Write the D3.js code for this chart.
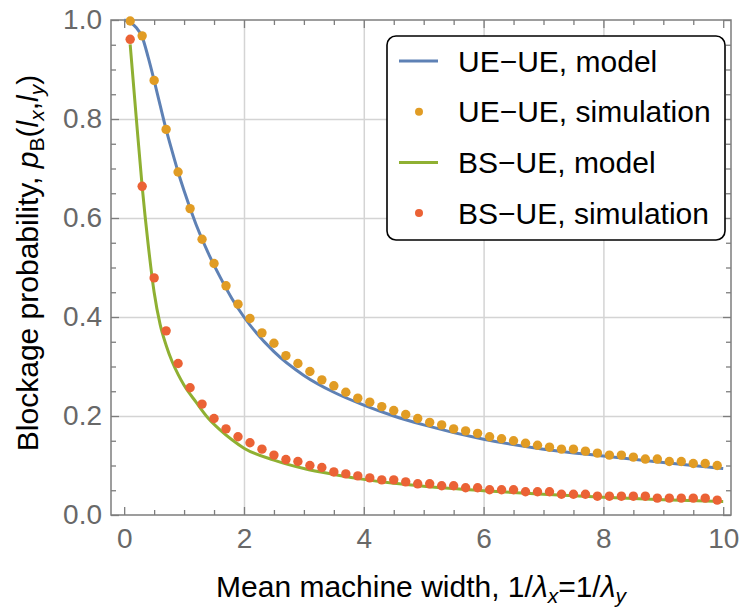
<!DOCTYPE html>
<html>
<head>
<meta charset="utf-8">
<script src="https://d3js.org/d3.v7.min.js"></script>
<style>
    body { margin: 0; background: #fff; }
    text { font-family: "Liberation Sans", Arial, sans-serif; }
</style>
</head>
<body>
<div id="blockage_chart"></div>
<script>
// simulation points (x = mean machine width)
var simX = [0.1, 0.3, 0.5, 0.7, 0.9, 1.1, 1.3, 1.5, 1.7, 1.9,
    2.1, 2.3, 2.5, 2.7, 2.9, 3.1, 3.3, 3.5, 3.7, 3.9,
    4.1, 4.3, 4.5, 4.7, 4.9, 5.1, 5.3, 5.5, 5.7, 5.9,
    6.1, 6.3, 6.5, 6.7, 6.9, 7.1, 7.3, 7.5, 7.7, 7.9,
    8.1, 8.3, 8.5, 8.7, 8.9, 9.1, 9.3, 9.5, 9.7, 9.9];
var ueUeSim = [0.998, 0.968, 0.878, 0.779, 0.693, 0.619, 0.557, 0.508, 0.463, 0.426,
    0.397, 0.368, 0.347, 0.322, 0.306, 0.290, 0.273, 0.261, 0.248, 0.236,
    0.228, 0.219, 0.211, 0.203, 0.195, 0.187, 0.182, 0.174, 0.170, 0.165,
    0.158, 0.154, 0.150, 0.145, 0.141, 0.137, 0.133, 0.133, 0.129, 0.125,
    0.121, 0.121, 0.117, 0.113, 0.113, 0.108, 0.108, 0.104, 0.104, 0.100];
var bsUeSim = [0.961, 0.664, 0.479, 0.372, 0.306, 0.257, 0.224, 0.195, 0.174, 0.158,
    0.146, 0.133, 0.121, 0.112, 0.108, 0.100, 0.096, 0.087, 0.083, 0.079,
    0.075, 0.071, 0.071, 0.067, 0.063, 0.063, 0.059, 0.059, 0.055, 0.055,
    0.051, 0.051, 0.051, 0.047, 0.047, 0.047, 0.042, 0.042, 0.042, 0.038,
    0.038, 0.038, 0.038, 0.038, 0.034, 0.034, 0.034, 0.034, 0.034, 0.030];

// model curves
var modelX = [0, 0.1, 0.2, 0.3, 0.4, 0.5, 0.6, 0.7, 0.8, 0.9, 1.0, 1.2, 1.4, 1.6, 1.8,
    2.0, 2.5, 3.0, 3.5, 4.0, 4.5, 5.0, 6.0, 7.0, 8.0, 9.0, 10.0];
var ueUeModel = [1.0, 0.995, 0.985, 0.966, 0.925, 0.878, 0.828, 0.779, 0.735, 0.693, 0.655, 0.587, 0.530, 0.481, 0.437,
    0.400, 0.330, 0.282, 0.248, 0.222, 0.200, 0.182, 0.153, 0.133, 0.119, 0.106, 0.094];
var bsUeModel = [null, 0.951, 0.805, 0.664, 0.547, 0.450, 0.385, 0.343, 0.310, 0.284, 0.262, 0.228, 0.196, 0.172, 0.152,
    0.135, 0.111, 0.094, 0.082, 0.072, 0.064, 0.058, 0.049, 0.042, 0.036, 0.031, 0.027];

var xMajor = [0, 2, 4, 6, 8, 10];
var xMinor = [0.5, 1, 1.5, 2.5, 3, 3.5, 4.5, 5, 5.5, 6.5, 7, 7.5, 8.5, 9, 9.5];
var yMajor = [0, 0.2, 0.4, 0.6, 0.8, 1.0];
var yMinor = [0.05, 0.1, 0.15, 0.25, 0.3, 0.35, 0.45, 0.5, 0.55, 0.65, 0.7, 0.75, 0.85, 0.9, 0.95];

var legendLabels = ["UE\u2212UE, model", "UE\u2212UE, simulation", "BS\u2212UE, model", "BS\u2212UE, simulation"];
var colors = { blue: "#5e81b5", orange: "#e19c24", green: "#8fb032", red: "#eb6235" };

(function () {

    // set the dimensions and margins of the graph
    var margin = { top: 20, right: 11, bottom: 93, left: 111 },
        width = 742 - margin.left - margin.right,
        height = 608 - margin.top - margin.bottom;

    var svg = d3.select("#blockage_chart")
        .append("svg")
        .attr("width", width + margin.left + margin.right)
        .attr("height", height + margin.top + margin.bottom)
        .append("g")
        .attr("transform", "translate(" + margin.left + "," + margin.top + ")");

    var x = d3.scaleLinear().domain([-0.22, 10.13]).range([0, width]);
    var y = d3.scaleLinear().domain([0, 1]).range([height, 0]);

    // grid lines
    svg.append("g")
        .attr("transform", "translate(0," + height + ")")
        .call(d3.axisBottom(x).tickValues([2, 4, 6, 8]).tickSize(-height).tickFormat(""))
        .call(function (g) { g.select(".domain").remove(); })
        .selectAll("line").attr("stroke", "#d4d4d4").attr("stroke-width", 1.5);
    svg.append("g")
        .call(d3.axisLeft(y).tickValues([0.2, 0.4, 0.6, 0.8]).tickSize(-width).tickFormat(""))
        .call(function (g) { g.select(".domain").remove(); })
        .selectAll("line").attr("stroke", "#d4d4d4").attr("stroke-width", 1.5);

    // frame
    svg.append("rect")
        .attr("width", width)
        .attr("height", height)
        .attr("fill", "none")
        .attr("stroke", "#7d7d7d")
        .attr("stroke-width", 1.5);

    // model lines
    var line = d3.line()
        .defined(function (d) { return d[1] != null; })
        .x(function (d) { return x(d[0]); })
        .y(function (d) { return y(d[1]); })
        .curve(d3.curveMonotoneX);

    svg.append("path")
        .datum(modelX.map(function (v, i) { return [v, ueUeModel[i]]; }))
        .attr("d", line)
        .attr("fill", "none")
        .attr("stroke", colors.blue)
        .attr("stroke-width", 3);

    svg.append("path")
        .datum(modelX.map(function (v, i) { return [v, bsUeModel[i]]; }))
        .attr("d", line)
        .attr("fill", "none")
        .attr("stroke", colors.green)
        .attr("stroke-width", 3);

    // simulation dots
    svg.append("g")
        .selectAll("circle")
        .data(simX.map(function (v, i) { return [v, ueUeSim[i]]; }))
        .enter()
        .append("circle")
        .attr("cx", function (d) { return x(d[0]); })
        .attr("cy", function (d) { return y(d[1]); })
        .attr("r", 4.7)
        .style("fill", colors.orange);

    svg.append("g")
        .selectAll("circle")
        .data(simX.map(function (v, i) { return [v, bsUeSim[i]]; }))
        .enter()
        .append("circle")
        .attr("cx", function (d) { return x(d[0]); })
        .attr("cy", function (d) { return y(d[1]); })
        .attr("r", 4.7)
        .style("fill", colors.red);

    // frame ticks, pointing inwards on all four sides
    function styleTicks(g) {
        g.select(".domain").remove();
        g.selectAll("line").attr("stroke", "#7d7d7d").attr("stroke-width", 1.3);
        g.selectAll("text")
            .attr("fill", "#686868")
            .style("font-size", "28px");
    }

    var bottomAxis = svg.append("g")
        .attr("transform", "translate(0," + height + ")")
        .call(d3.axisBottom(x).tickValues(xMajor).tickSizeInner(-8).tickPadding(33).tickFormat(d3.format("d")))
        .call(styleTicks);
    bottomAxis.selectAll("text").attr("dy", 0);
    svg.append("g")
        .attr("transform", "translate(0," + height + ")")
        .call(d3.axisBottom(x).tickValues(xMinor).tickSize(-5).tickFormat(""))
        .call(styleTicks);
    svg.append("g")
        .call(d3.axisTop(x).tickValues(xMajor).tickSize(-8).tickFormat(""))
        .call(styleTicks);
    svg.append("g")
        .call(d3.axisTop(x).tickValues(xMinor).tickSize(-5).tickFormat(""))
        .call(styleTicks);

    svg.append("g")
        .call(d3.axisLeft(y).tickValues(yMajor).tickSizeInner(-8).tickPadding(9).tickFormat(d3.format(".1f")))
        .call(styleTicks);
    svg.append("g")
        .call(d3.axisLeft(y).tickValues(yMinor).tickSize(-5).tickFormat(""))
        .call(styleTicks);
    svg.append("g")
        .attr("transform", "translate(" + width + ",0)")
        .call(d3.axisRight(y).tickValues(yMajor).tickSize(-8).tickFormat(""))
        .call(styleTicks);
    svg.append("g")
        .attr("transform", "translate(" + width + ",0)")
        .call(d3.axisRight(y).tickValues(yMinor).tickSize(-5).tickFormat(""))
        .call(styleTicks);

    // X axis label
    var xLabel = svg.append("text")
        .attr("text-anchor", "middle")
        .attr("x", width / 2)
        .attr("y", height + 82)
        .style("font-size", "30px")
        .attr("fill", "#000");
    xLabel.append("tspan").text("Mean machine width, 1/");
    xLabel.append("tspan").style("font-style", "italic").text("\u03bb");
    xLabel.append("tspan").style("font-style", "italic").style("font-size", "21px").attr("dy", 6).text("x");
    xLabel.append("tspan").attr("dy", -6).text("=1/");
    xLabel.append("tspan").style("font-style", "italic").text("\u03bb");
    xLabel.append("tspan").style("font-style", "italic").style("font-size", "21px").attr("dy", 6).text("y");

    // Y axis label
    var yLabel = svg.append("text")
        .attr("text-anchor", "middle")
        .attr("transform", "rotate(-90)")
        .attr("x", -(263 - margin.top))
        .attr("y", 38 - margin.left)
        .style("font-size", "30px")
        .attr("fill", "#000");
    yLabel.append("tspan").text("Blockage probability, ");
    yLabel.append("tspan").style("font-style", "italic").text("p");
    yLabel.append("tspan").style("font-size", "21px").attr("dy", 6).text("B");
    yLabel.append("tspan").attr("dy", -6).text("(");
    yLabel.append("tspan").style("font-style", "italic").text("l");
    yLabel.append("tspan").style("font-style", "italic").style("font-size", "21px").attr("dy", 6).text("x");
    yLabel.append("tspan").attr("dy", -6).text(",");
    yLabel.append("tspan").style("font-style", "italic").text("l");
    yLabel.append("tspan").style("font-style", "italic").style("font-size", "21px").attr("dy", 6).text("y");
    yLabel.append("tspan").attr("dy", -6).text(")");

    // legend
    var legend = svg.append("g")
        .attr("transform", "translate(" + (387 - margin.left) + "," + (36 - margin.top) + ")");
    legend.append("rect")
        .attr("width", 338)
        .attr("height", 204)
        .attr("rx", 9)
        .attr("fill", "#fff")
        .attr("stroke", "#000")
        .attr("stroke-width", 1.6);

    var legendKinds = [
        { type: "line", color: colors.blue },
        { type: "dot", color: colors.orange },
        { type: "line", color: colors.green },
        { type: "dot", color: colors.red }
    ];
    var rows = legend.selectAll(".row")
        .data(legendLabels)
        .enter()
        .append("g")
        .attr("class", "row")
        .attr("transform", function (d, i) { return "translate(0," + (25 + i * 50.7) + ")"; });

    rows.each(function (d, i) {
        var g = d3.select(this);
        var k = legendKinds[i];
        if (k.type == "line") {
            g.append("line")
                .attr("x1", 12).attr("x2", 51)
                .attr("y1", 0).attr("y2", 0)
                .attr("stroke", k.color)
                .attr("stroke-width", 3);
        } else {
            g.append("circle")
                .attr("cx", 32).attr("cy", 0)
                .attr("r", 4)
                .attr("fill", k.color);
        }
        g.append("text")
            .attr("x", 71)
            .attr("y", 0)
            .attr("dy", "0.35em")
            .style("font-size", "30px")
            .attr("fill", "#000")
            .text(d);
    });

})();
</script>
</body>
</html>
